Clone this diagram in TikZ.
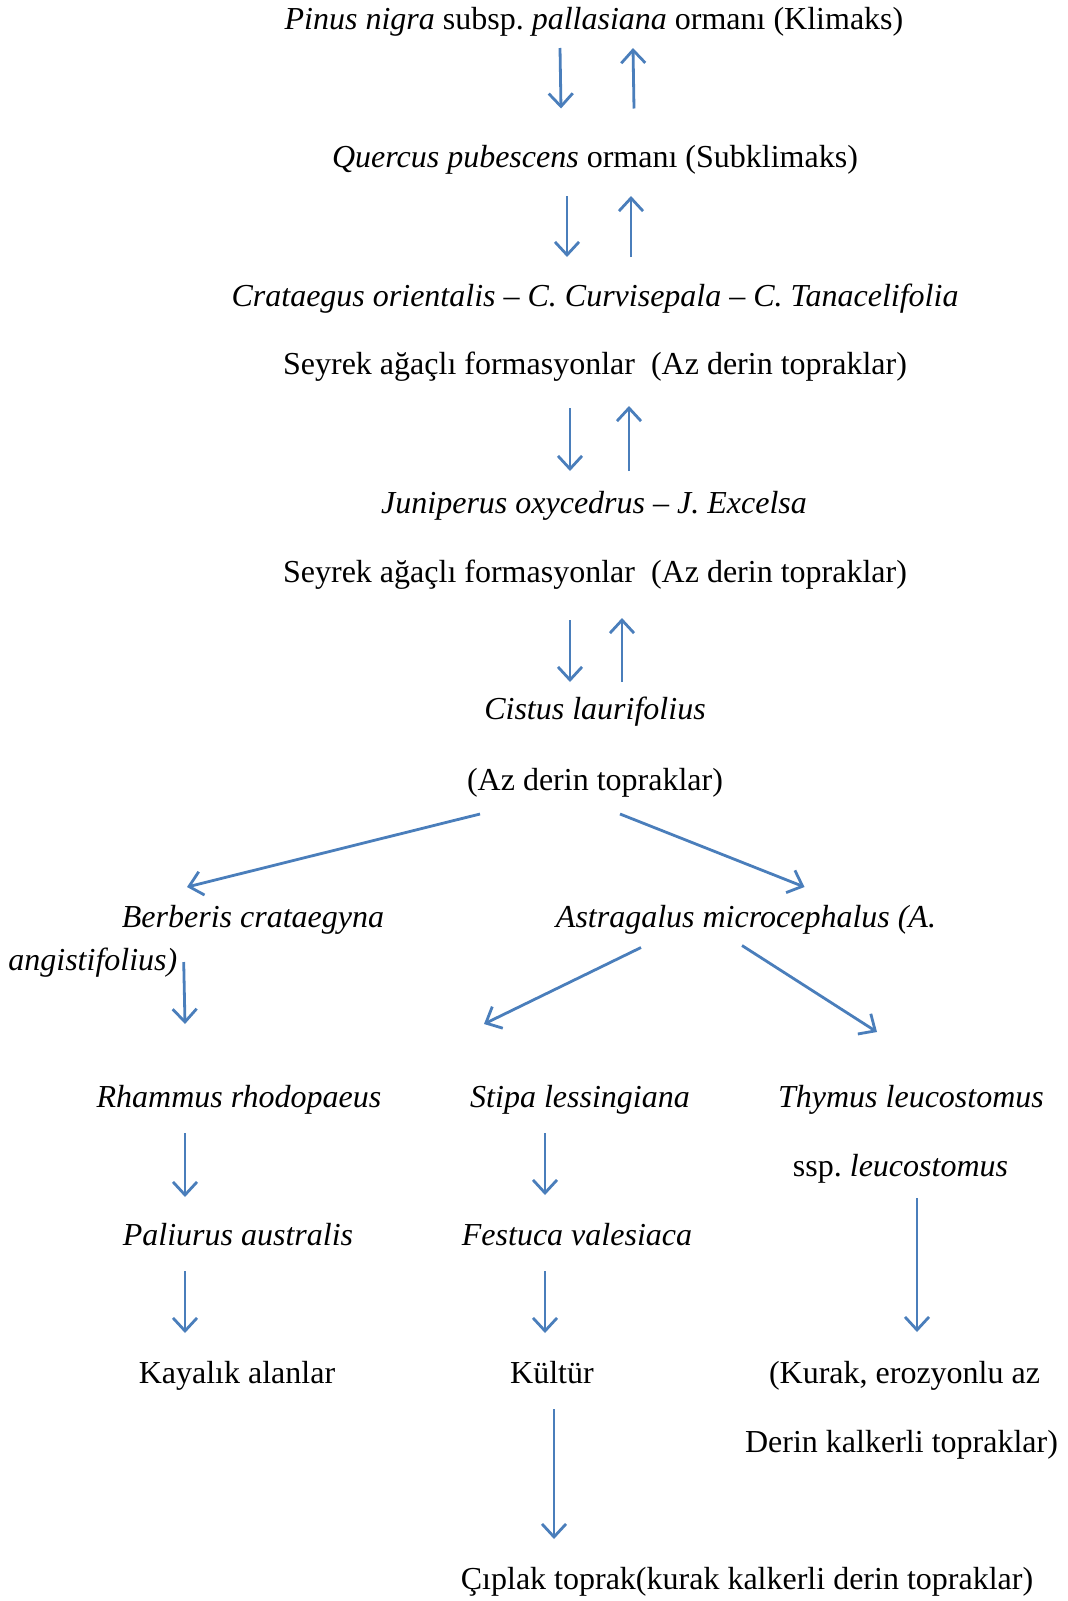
\documentclass[tikz,border=0pt]{standalone}
\usepackage{fontspec}
\setmainfont{Liberation Serif}
\usepackage{tikz}
\usetikzlibrary{arrows.meta,calc}
\usepackage{xcolor}
\definecolor{succblue}{RGB}{74, 126, 187}
\frenchspacing

\tikzset{
  taxon/.style={anchor=base, inner sep=0pt, font=\fontsize{16}{19}\selectfont},
  succ/.style={draw=succblue, line width=1.4pt, -{Straight Barb[length=6.5pt,width=12pt,line width=1.4pt]}}
}

\begin{document}
\begin{tikzpicture}[x=0.5pt, y=-0.5pt]
            \useasboundingbox (0,0) rectangle (1068,1601);

            \node[taxon] (pinus) at (594,29.5) {\textit{Pinus nigra} subsp. \textit{pallasiana} ormanı (Klimaks)};
            \node[taxon] (quercus) at (595,167) {\textit{Quercus pubescens} ormanı (Subklimaks)};
            \node[taxon] (crataegus) at (595,306) {\textit{Crataegus orientalis – C. Curvisepala – C. Tanacelifolia}};
            \node[taxon] (seyrekA) at (595,374.5) {Seyrek ağaçlı formasyonlar\ \ (Az derin topraklar)};
            \node[taxon] (juniperus) at (594,513) {\textit{Juniperus oxycedrus – J. Excelsa}};
            \node[taxon] (seyrekB) at (595,582) {Seyrek ağaçlı formasyonlar\ \ (Az derin topraklar)};
            \node[taxon] (cistus) at (595,719.5) {\textit{Cistus laurifolius}};
            \node[taxon] (azderin) at (595,790) {(Az derin topraklar)};

            \node[taxon] (berberis) at (253,927) {\textit{Berberis crataegyna}};
            \node[taxon] (astragalus) at (746,927) {\textit{Astragalus microcephalus (A.}};
            \node[taxon, anchor=base west] (angist) at (8,970) {\textit{angistifolius)}};

            \node[taxon] (rhammus) at (239,1107.5) {\textit{Rhammus rhodopaeus}};
            \node[taxon] (stipa) at (580,1107.5) {\textit{Stipa lessingiana}};
            \node[taxon] (thymus) at (911,1107.5) {\textit{Thymus leucostomus}};
            \node[taxon] (ssp) at (900.5,1176) {ssp. \textit{leucostomus}};

            \node[taxon] (paliurus) at (238,1245) {\textit{Paliurus australis}};
            \node[taxon] (festuca) at (577,1245) {\textit{Festuca valesiaca}};

            \node[taxon] (kayalik) at (237,1383) {Kayalık alanlar};
            \node[taxon] (kultur) at (552,1383) {Kültür};
            \node[taxon] (kurak) at (904.5,1383) {(Kurak, erozyonlu az};
            \node[taxon] (derin) at (901.5,1452) {Derin kalkerli topraklar)};
            \node[taxon] (ciplak) at (747,1589.5) {Çıplak toprak(kurak kalkerli derin topraklar)};

            \draw[succ] ($(pinus.base)+(-34,18.5)$) -- ($(quercus.base)+(-34,-58.5)$);
            \draw[succ] ($(quercus.base)+(39,-58.5)$) -- ($(pinus.base)+(39,18.5)$);
            \draw[succ] ($(quercus.base)+(-28,29)$) -- ($(crataegus.base)+(-28,-49)$);
            \draw[succ] ($(crataegus.base)+(36,-49)$) -- ($(quercus.base)+(36,29)$);
            \draw[succ] ($(seyrekA.base)+(-25,33.5)$) -- ($(juniperus.base)+(-24,-42)$);
            \draw[succ] ($(juniperus.base)+(35,-42)$) -- ($(seyrekA.base)+(34,31.5)$);
            \draw[succ] ($(seyrekB.base)+(-25,38)$) -- ($(cistus.base)+(-25,-37.5)$);
            \draw[succ] ($(cistus.base)+(27,-37.5)$) -- ($(seyrekB.base)+(27,36)$);

            \draw[succ] ($(azderin.base)+(-115,24)$) -- ($(berberis.base)+(-66,-40)$);
            \draw[succ] ($(azderin.base)+(25,24)$) -- ($(astragalus.base)+(58.5,-40)$);
            \draw[succ] ($(angist.base east)+(6,-8)$) -- ($(rhammus.base)+(-54,-83.5)$);
            \draw[succ] ($(astragalus.base)+(-105,20.5)$) -- ($(stipa.base)+(-96,-83.5)$);
            \draw[succ] ($(astragalus.base)+(-4,18.5)$) -- ($(thymus.base)+(-34,-75.5)$);

            \draw[succ] ($(rhammus.base)+(-54,25.5)$) -- ($(paliurus.base)+(-53,-48)$);
            \draw[succ] ($(stipa.base)+(-35,25.5)$) -- ($(festuca.base)+(-32,-50)$);
            \draw[succ] ($(ssp.base)+(16.5,22)$) -- ($(kurak.base)+(12.5,-51)$);
            \draw[succ] ($(paliurus.base)+(-53,26)$) -- ($(kayalik.base)+(-52,-50)$);
            \draw[succ] ($(festuca.base)+(-32,26)$) -- ($(kultur.base)+(-7,-50)$);
            \draw[succ] ($(kultur.base)+(2,26)$) -- ($(ciplak.base)+(-193,-50.5)$);
        \end{tikzpicture}
\end{document}
